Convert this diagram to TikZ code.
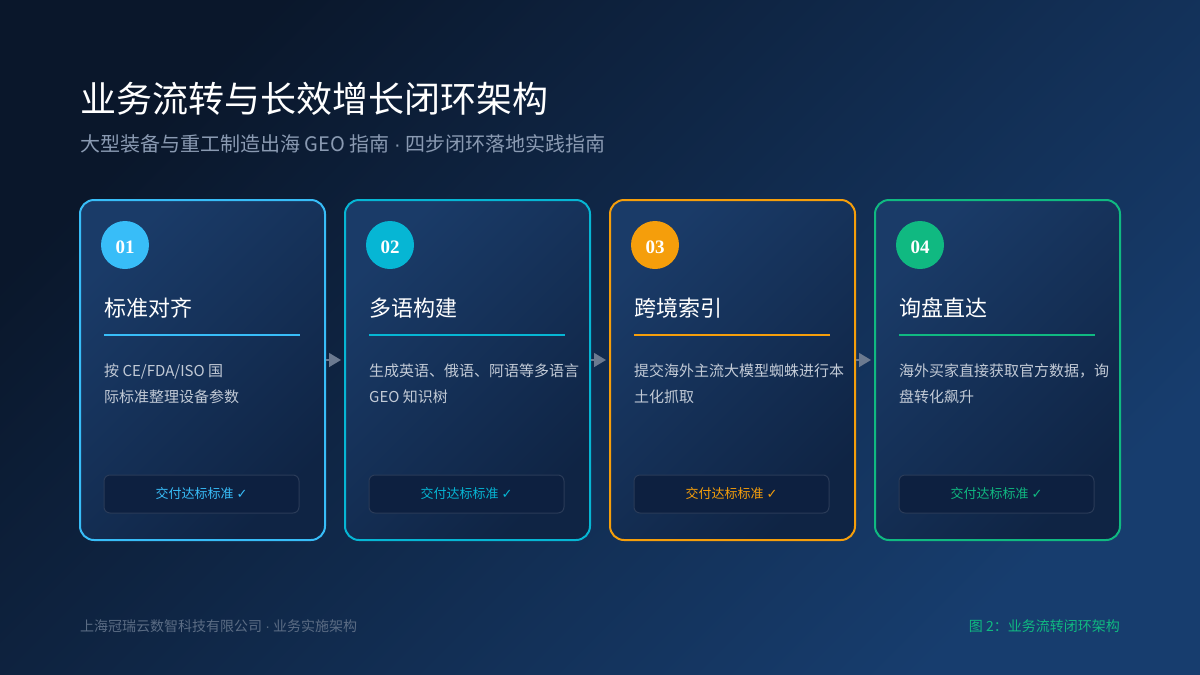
\documentclass[tikz,border=0pt]{standalone}
\usepackage{fontspec}
\setmainfont{Noto Sans CJK SC}
\newfontfamily\numfont{Liberation Serif}
\newfontfamily\symfont{DejaVu Sans}
\newfontfamily\latinfont{Liberation Sans}
\newcommand{\mydot}{{\latinfont ·}}
\usetikzlibrary{arrows.meta,positioning}
\definecolor{bgA}{HTML}{0A172B}
\definecolor{bgB}{HTML}{173D6E}
\definecolor{cardA}{HTML}{1A3B68}
\definecolor{cardB}{HTML}{0F2444}
\definecolor{colA}{HTML}{38BDF8}
\definecolor{colB}{HTML}{06B6D4}
\definecolor{colC}{HTML}{F59E0B}
\definecolor{colD}{HTML}{10B981}
\definecolor{subgrey}{HTML}{8A9AB2}
\definecolor{bodygrey}{HTML}{C2CAD6}
\definecolor{footgrey}{HTML}{5B6C84}
\definecolor{arrowgrey}{HTML}{6B7A90}
\definecolor{btnfill}{HTML}{0D2040}
\definecolor{btnline}{HTML}{2A3B58}
\tikzset{
  cardbox/.style={draw=#1, line width=2pt, rounded corners=14pt, minimum width=245pt, minimum height=340pt, top color=cardA, bottom color=cardB, shading angle=45, inner sep=0pt},
  numcircle/.style={circle, fill=#1, minimum size=48pt, inner sep=0pt, text=white, font=\numfont\bfseries\fontsize{19}{19}\selectfont},
  numtext/.style={inner sep=0pt, text=white, font=\numfont\bfseries\fontsize{19}{19}\selectfont},
  headtext/.style={anchor=base west, inner sep=0pt, text=white, font=\fontsize{22}{26}\selectfont},
  bodytext/.style={anchor=base west, inner sep=0pt, text=bodygrey, align=left, font=\fontsize{15}{26}\selectfont},
  btnbox/.style={draw=btnline, line width=1pt, fill=btnfill, rounded corners=6pt, minimum width=195pt, minimum height=38pt, inner sep=0pt, text=#1, font=\fontsize{13}{14}\selectfont},
  rulebar/.style={draw=#1, line width=2pt},
  flowarrow/.style={draw=arrowgrey, line width=1.5pt, shorten >=3pt, -{Triangle[length=12pt,width=14pt]}},
}
\begin{document}
\begin{tikzpicture}[x=1pt,y=-1pt]
\useasboundingbox (0,0) rectangle (1200,675);
\shade[top color=bgA, bottom color=bgB, shading angle=45] (0,0) rectangle (1200,675);
% title
\node[anchor=base west, inner sep=0pt, text=white, font=\fontsize{36}{40}\selectfont] (title) at (80,112) {业务流转与长效增长闭环架构};
\node[anchor=base west, inner sep=0pt, text=subgrey, font=\fontsize{20}{22}\selectfont] (subtitle) at (80,151) {大型装备与重工制造出海 GEO 指南 \mydot{} 四步闭环落地实践指南};
% cards
\foreach \i/\x/\col/\num/\head/\body in {
  1/80/colA/01/标准对齐/{按 CE/FDA/ISO 国\\际标准整理设备参数},
  2/345/colB/02/多语构建/{生成英语、俄语、阿语等多语言\\GEO 知识树},
  3/610/colC/03/跨境索引/{提交海外主流大模型蜘蛛进行本\\土化抓取},
  4/875/colD/04/询盘直达/{海外买家直接获取官方数据，询\\盘转化飙升}} {
  \node[cardbox=\col] (c\i) at (\x+122.5,370) {};
  \node[numcircle=\col] (n\i) at (\x+45,245) {};
  \node[numtext] (t\i) at (\x+45,247) {\num};
  \node[headtext] (h\i) at (\x+24,316) {\head};
  \coordinate (ra\i) at (\x+24,335);
  \coordinate (rb\i) at (\x+220,335);
  \draw[rulebar=\col] (ra\i) -- (rb\i);
  \node[bodytext] (b\i) at (\x+24,402) {\body};
  \node[btnbox=\col] (k\i) at (\x+121.5,494) {交付达标标准 {\symfont\fontsize{13}{14}\selectfont ✓}};
}
\draw[flowarrow] ([yshift=10pt]c1.east) -- ([yshift=10pt]c2.west);
\draw[flowarrow] ([yshift=10pt]c2.east) -- ([yshift=10pt]c3.west);
\draw[flowarrow] ([yshift=10pt]c3.east) -- ([yshift=10pt]c4.west);
% footer
\node[anchor=base west, inner sep=0pt, text=footgrey, font=\fontsize{14}{16}\selectfont] (footl) at (80,631) {上海冠瑞云数智科技有限公司 \mydot{} 业务实施架构};
\node[anchor=base east, inner sep=0pt, text=colD, font=\fontsize{14}{16}\selectfont] (footr) at (1120,631) {图 2：业务流转闭环架构};
\end{tikzpicture}
\end{document}
